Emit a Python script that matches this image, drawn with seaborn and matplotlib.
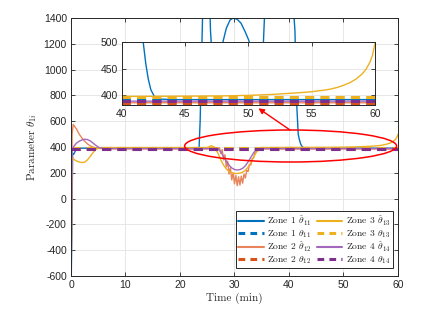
import matplotlib
matplotlib.use("Agg")
import matplotlib.pyplot as plt
import seaborn as sns
import numpy as np
from matplotlib.patches import Ellipse
from matplotlib.lines import Line2D

# ---- data ----
t_est1 = [0, 0.3, 0.5, 0.8, 1.2, 1.6, 23.5, 23.7, 24.3, 25.0, 25.6, 26.2, 27.2, 27.8,
          28.5, 29.2, 29.8, 30.5, 31.2, 32.0, 32.6, 33.2, 34.2, 35.2, 35.6, 36.5, 38.0,
          40.0, 41.1, 41.4, 41.7, 41.9, 42.1, 42.3, 42.6, 43.0, 44.0, 60]
v_est1 = [-800, 350, 345, 370, 386, 391, 391, 600, 1700, 2200, 1300, 900, 1000, 1200,
          1320, 1385, 1400, 1390, 1360, 1290, 1230, 1150, 1000, 1100, 1500, 2400, 2600,
          2000, 1300, 750, 500, 460, 430, 410, 396, 392, 391, 391]

t_est2 = [0, 0.2, 0.4, 1.0, 1.5, 2.0, 2.5, 3.0, 3.5, 4.0, 5.0, 6.0, 27.0, 27.25, 27.5,
          27.75, 28.0, 28.25, 28.5, 28.75, 29.0, 29.25, 29.5, 29.75, 30.0, 30.25, 30.5,
          30.75, 31.0, 31.25, 31.5, 31.75, 32.0, 32.25, 32.5, 32.75, 33.0, 33.25, 33.5,
          33.75, 34.0, 34.5, 60]
v_est2 = [-800, 500, 575, 540, 500, 470, 445, 425, 410, 400, 390, 386, 385, 395, 350,
          380, 300, 340, 245, 290, 190, 240, 145, 200, 115, 180, 100, 170, 105, 175, 120,
          190, 160, 220, 210, 265, 260, 310, 315, 355, 360, 385, 385]

t_est3 = [0, 0.2, 0.5, 1.0, 1.5, 2.0, 2.5, 3.0, 3.5, 4.0, 4.5, 5.0, 5.5, 25.0, 25.7,
          26.3, 27.0, 27.5, 28.0, 28.5, 29.0, 29.5, 30.0, 30.5, 31.0, 31.5, 32.0, 32.5,
          33.0, 33.5, 34.0, 34.5, 35.0, 40, 45, 48, 50, 51, 52, 53, 54, 55, 56, 56.5, 57,
          57.5, 58, 58.5, 59, 59.3, 59.6, 59.8, 60]
v_est3 = [-800, 320, 305, 292, 284, 280, 282, 300, 325, 355, 378, 392, 396, 396, 410,
          400, 350, 300, 260, 230, 210, 200, 195, 195, 198, 205, 220, 245, 280, 320, 360,
          385, 396, 397, 397.5, 398, 399, 400, 401, 402.5, 404, 406, 409, 411, 414,
          418, 423, 430, 440, 449, 462, 475, 498]

t_est4 = [0, 0.2, 0.5, 1.0, 1.5, 2.0, 2.5, 3.0, 3.5, 4.0, 4.5, 5.0, 5.5, 6.0, 26.8,
          27.2, 27.6, 28.0, 28.5, 29.0, 29.5, 30.0, 30.5, 31.0, 31.5, 32.0, 32.5, 33.0,
          33.5, 34.0, 34.5, 35.0, 60]
v_est4 = [-800, 380, 405, 430, 445, 455, 460, 458, 448, 432, 415, 400, 392, 388, 388,
          378, 355, 325, 290, 260, 238, 226, 222, 225, 235, 255, 285, 320, 355, 378, 387,
          388, 388]

t_true = [0, 60]
v_true1 = [391, 391]
v_true2 = [385, 385]
v_true3 = [395, 395]
v_true4 = [388, 388]

labels_est = [r"Zone 1 $\hat{\theta}_{11}$", r"Zone 2 $\hat{\theta}_{12}$",
              r"Zone 3 $\hat{\theta}_{13}$", r"Zone 4 $\hat{\theta}_{14}$"]
labels_true = [r"Zone 1 $\theta_{11}$", r"Zone 2 $\theta_{12}$",
               r"Zone 3 $\theta_{13}$", r"Zone 4 $\theta_{14}$"]

est_colors = ["#0072BD", "#E8845C", "#EDB120", "#A367BE"]
true_colors = ["#0072BD", "#D95319", "#EDB120", "#7E2F8E"]

sns.set_theme(style="ticks")
plt.rcParams["font.family"] = ["Liberation Sans", "DejaVu Sans"]
plt.rcParams["mathtext.fontset"] = "cm"
plt.rcParams["axes.unicode_minus"] = False

est = [(t_est1, v_est1), (t_est2, v_est2), (t_est3, v_est3), (t_est4, v_est4)]
true = [v_true1, v_true2, v_true3, v_true4]
DASH = (0, (3, 2))


def draw_all(ax):
    for i in range(4):
        t, v = est[i]
        sns.lineplot(x=t, y=v, ax=ax, color=est_colors[i], lw=1.0, sort=False,
                     estimator=None)
        sns.lineplot(x=t_true, y=true[i], ax=ax, color=true_colors[i], lw=2.2,
                     sort=False, estimator=None, linestyle=DASH)


def style_axes(ax):
    ax.tick_params(direction="in", top=True, right=True, length=3, width=0.6,
                   labelsize=7.5, colors="#262626", pad=3)
    ax.grid(True, color="#e3e3e3", lw=0.6)
    ax.set_axisbelow(True)
    for s in ax.spines.values():
        s.set_color("#262626")
        s.set_linewidth(0.7)


fig = plt.figure(figsize=(4.33, 3.13), dpi=100)
ax = fig.add_axes([0.164, 0.118, 0.755, 0.8245])
draw_all(ax)
ax.set_xlim(0, 60)
ax.set_ylim(-600, 1400)
ax.set_xticks(np.arange(0, 61, 10))
ax.set_yticks(np.arange(-600, 1401, 200))
style_axes(ax)
ax.set_xlabel("Time (min)", fontfamily="cmr10", fontsize=8, labelpad=2)
ax.set_ylabel(r"Parameter $\theta_{1i}$", fontfamily="cmr10", fontsize=8, labelpad=3)

handles, labels = [], []
for i in range(4):
    handles.append(Line2D([], [], color=est_colors[i], lw=1.5))
    labels.append(labels_est[i])
    handles.append(Line2D([], [], color=true_colors[i], lw=2.2, linestyle="--"))
    labels.append(labels_true[i])
leg = ax.legend(handles, labels, ncol=2, loc="lower right",
                bbox_to_anchor=(0.985, 0.03), borderaxespad=0, handlelength=2.7,
                columnspacing=0.5, handletextpad=0.35, labelspacing=0.02,
                borderpad=0.25, fancybox=False, framealpha=1, edgecolor="#262626",
                prop={"family": "cmr10", "size": 6.9})
leg.get_frame().set_linewidth(0.7)
for k, ln in enumerate(leg.get_lines()):
    if k % 2 == 1:
        ln.set_linestyle((0, (2.2, 1.7)))

ax.add_patch(Ellipse((40.3, 408), 38.9, 248, fill=False, edgecolor="red", lw=1.1,
                     zorder=5))
ax.annotate("", xy=(34.4, 700), xytext=(40.2, 532),
            arrowprops=dict(arrowstyle="-|>", color="red", lw=1.0,
                            mutation_scale=8, shrinkA=0, shrinkB=0),
            annotation_clip=False, zorder=6)

axin = fig.add_axes([0.281, 0.665, 0.585, 0.200])
draw_all(axin)
axin.set_xlim(40, 60)
axin.set_ylim(381, 500)
axin.set_xticks([40, 45, 50, 55, 60])
axin.set_yticks([400, 450, 500])
style_axes(axin)
axin.set_xlabel("")
axin.set_ylabel("")
axin.set_facecolor("white")

fig.savefig("out.png", dpi=100)
